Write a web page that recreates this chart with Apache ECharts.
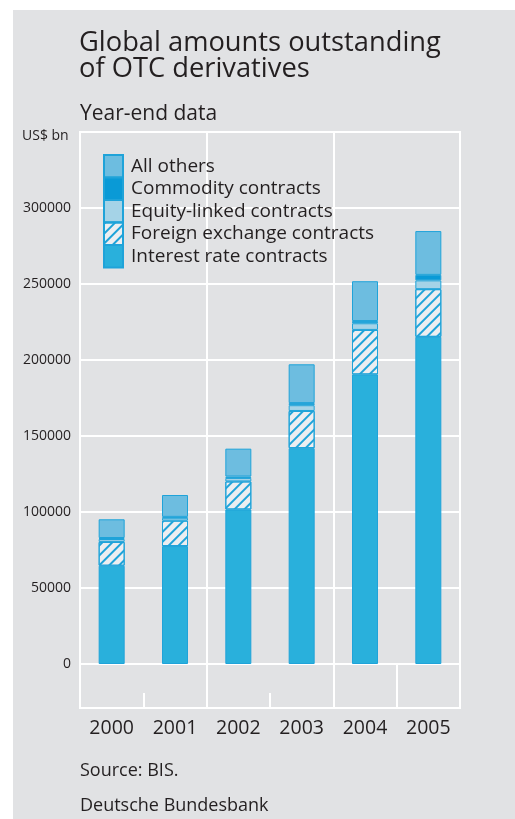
<!DOCTYPE html>
<html>
<head>
<meta charset="utf-8">
<script src="https://cdn.jsdelivr.net/npm/echarts@6/dist/echarts.min.js"></script>
<style>
  html, body { margin: 0; padding: 0; background: #ffffff; }
  #bg { position: absolute; left: 13px; top: 10px; width: 502px; height: 809px; background: #e1e2e4; }
  #chart { position: absolute; left: 0; top: 0; width: 515px; height: 819px; }
</style>
</head>
<body>
<div id="bg"></div>
<div id="chart"></div>
<script>
// ---- Data (US$ bn, year-end) ----
const years = ['2000', '2001', '2002', '2003', '2004', '2005'];
const interestRate = [64668, 77568, 101658, 141991, 190502, 215237];
const foreignExchange = [15666, 16748, 18448, 24475, 29289, 31364];
const equityLinked = [1891, 1881, 2309, 3787, 4385, 5793];
const commodity = [662, 598, 923, 1406, 1443, 3600];
const allOthers = [12313, 14384, 18328, 25508, 26204, 28830];
const yTicks = { min: 0, max: 350000, interval: 50000 };

const FONT = '"Open Sans", "DejaVu Sans", sans-serif';
const TXT = '#231f20';
const BORDER = '#1fa3d9';
const WHITE = '#ffffff';

const chart = echarts.init(document.getElementById('chart'), null, { renderer: 'canvas' });

function barSeries(name, data, color, extra) {
  return {
    name: name,
    type: 'bar',
    stack: 'total',
    xAxisIndex: 0,
    yAxisIndex: 0,
    barWidth: 26,
    data: data,
    itemStyle: Object.assign({ color: color, borderColor: BORDER, borderWidth: 1 }, extra || {}),
    emphasis: { disabled: true }
  };
}

const option = {
  animation: false,
  textStyle: { fontFamily: FONT, color: TXT },
  title: [
    { text: 'Global amounts outstanding\nof OTC derivatives', left: 79, top: 30, padding: 0,
      textStyle: { fontFamily: FONT, fontSize: 27.3, lineHeight: 26, fontWeight: 'normal', color: TXT } },
    { text: 'Year-end data', left: 80, top: 104, padding: 0,
      textStyle: { fontFamily: FONT, fontSize: 21, fontWeight: 'normal', color: TXT } },
    { text: 'US$ bn', left: 22, top: 129, padding: 0,
      textStyle: { fontFamily: FONT, fontSize: 14, fontWeight: 'normal', color: TXT } },
    { text: 'Source: BIS.', left: 80, top: 762, padding: 0,
      textStyle: { fontFamily: FONT, fontSize: 18, fontWeight: 'normal', color: TXT } },
    { text: 'Deutsche Bundesbank', left: 80, top: 797, padding: 0,
      textStyle: { fontFamily: FONT, fontSize: 18, fontWeight: 'normal', color: TXT } }
  ],
  legend: {
    orient: 'vertical',
    left: 103,
    top: 154,
    padding: 0,
    itemWidth: 19,
    itemHeight: 22.5,
    itemGap: -2,
    icon: 'rect',
    selectedMode: false,
    data: ['All others', 'Commodity contracts', 'Equity-linked contracts', 'Foreign exchange contracts', 'Interest rate contracts'],
    textStyle: { fontFamily: FONT, fontSize: 19, lineHeight: 22, color: TXT, padding: [0, 0, 0, 3] }
  },
  grid: [
    { left: 80, width: 380, top: 132, height: 532, show: true, borderColor: WHITE, borderWidth: 2, backgroundColor: 'transparent' },
    { left: 80, width: 380, top: 664, height: 44, show: true, borderColor: WHITE, borderWidth: 2, backgroundColor: 'transparent' }
  ],
  xAxis: [
    { type: 'category', gridIndex: 0, data: years,
      axisLine: { show: false }, axisTick: { show: false }, axisLabel: { show: false },
      splitLine: { show: true, interval: 1, lineStyle: { color: WHITE, width: 2 } } },
    { type: 'category', gridIndex: 1, data: years, position: 'bottom',
      axisLine: { show: true, lineStyle: { color: WHITE, width: 2 } },
      axisTick: { show: true, inside: true, length: 15, interval: 0, lineStyle: { color: WHITE, width: 2 } },
      axisLabel: { show: true, interval: 0, fontFamily: FONT, fontSize: 19.5, color: TXT, margin: 10 },
      splitLine: { show: true, interval: 1, lineStyle: { color: WHITE, width: 2 } } }
  ],
  yAxis: [
    { type: 'value', gridIndex: 0, min: yTicks.min, max: yTicks.max, interval: yTicks.interval,
      axisLine: { show: false }, axisTick: { show: false },
      axisLabel: { fontFamily: FONT, fontSize: 14, color: TXT, margin: 9, showMaxLabel: false,
        formatter: function (v) { return String(v); } },
      splitLine: { show: true, lineStyle: { color: WHITE, width: 2 } } },
    { type: 'value', gridIndex: 1, min: 0, max: 1, show: false, splitLine: { show: false } }
  ],
  series: [
    barSeries('Interest rate contracts', interestRate, '#29b0dc'),
    barSeries('Foreign exchange contracts', foreignExchange, '#eceef1', {
      decal: { symbol: 'rect', symbolSize: 1, color: BORDER, dashArrayX: [1, 0], dashArrayY: [1.3, 4.5], rotation: -Math.PI / 4 }
    }),
    barSeries('Equity-linked contracts', equityLinked, '#a5d3e7'),
    barSeries('Commodity contracts', commodity, '#0a9ad6'),
    barSeries('All others', allOthers, '#6dbde0')
  ]
};

chart.setOption(option);
</script>
</body>
</html>
